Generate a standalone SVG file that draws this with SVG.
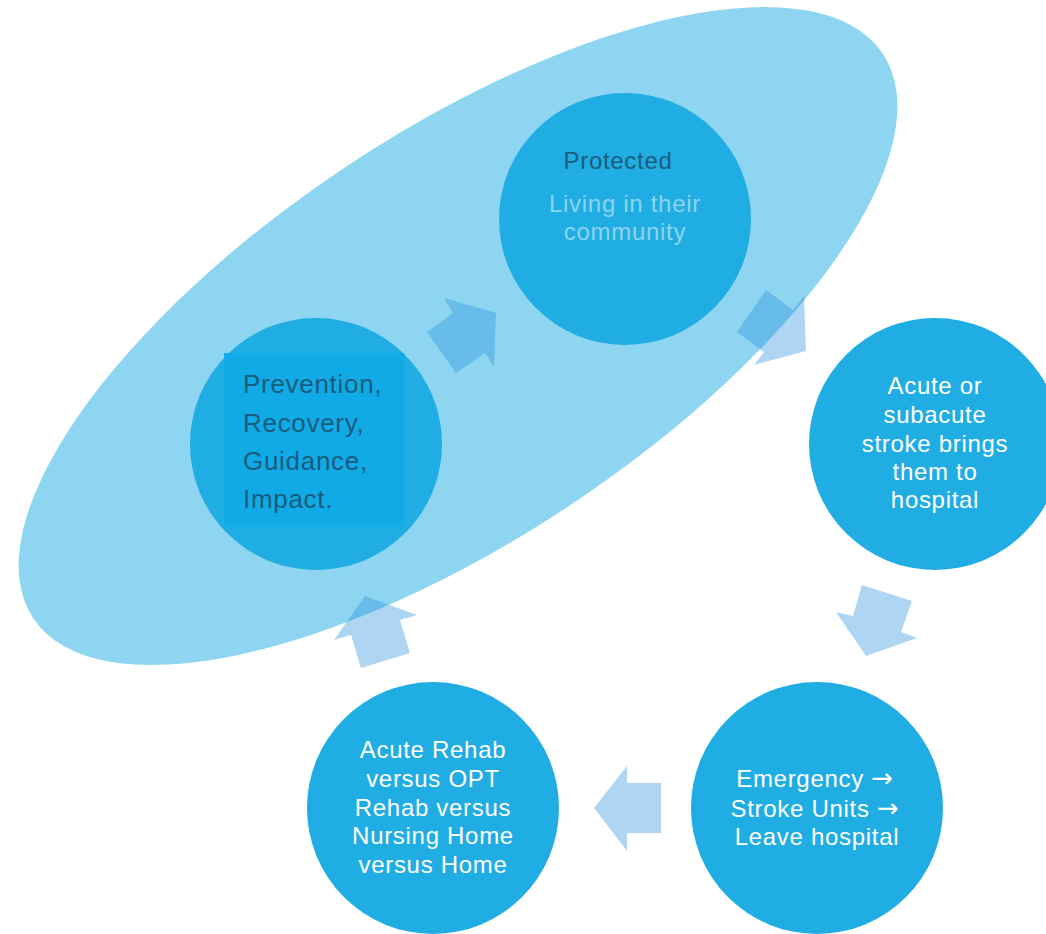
<svg xmlns="http://www.w3.org/2000/svg" width="1046" height="934" viewBox="0 0 1046 934">
<style>
.c{fill:#1FADE3}
.t{font-family:"Liberation Sans",Arial,sans-serif;font-size:24px;letter-spacing:0.7px;fill:#FFFFFF;text-anchor:middle}
.dk{fill:#1A5C7C}
.lt{fill:#8DD5F0}
.lf{font-family:"Liberation Sans",Arial,sans-serif;font-size:26px;letter-spacing:0.7px;fill:#1A5C7C}
.ar{fill:#2A93DC;fill-opacity:0.38}
.arw{font-family:"DejaVu Sans",sans-serif;font-size:26px}
</style>
<rect width="1046" height="934" fill="#FFFFFF"/>
<ellipse id="ellipse" cx="458" cy="336" rx="510" ry="203" transform="rotate(-33.6 458 336)" fill="#8DD5F0"/>
<g id="connectors">
<polygon class="ar" points="444,298 496,313 494,367 485,353 456,373 427,332 453,313"/>
<polygon class="ar" points="766,290 793,310 804,296 806,351 754,365 764,352 737,332"/>
<polygon class="ar" points="862,585 912,601 901,632 917,638 866,656 836,612 853,616"/>
<polygon class="ar" points="661,783 661,833 627,833 627,851 594,808 627,766 627,783"/>
<polygon class="ar" points="410,653 400,620 417,615 365,596 334,640 351,635 361,668"/>
</g>
<g id="node-protected">
<circle class="c" cx="625" cy="219" r="126"/>
<text class="t dk" x="618" y="169">Protected</text>
<text class="t lt" x="625" y="212">Living in their</text>
<text class="t lt" x="625" y="240">community</text>
</g>
<g id="node-prevention">
<circle class="c" cx="316" cy="444" r="126"/>
<rect x="224" y="353" width="180" height="174" fill="#10AAE6"/>
<text class="lf" x="243" y="393">Prevention,</text>
<text class="lf" x="243" y="432">Recovery,</text>
<text class="lf" x="243" y="470">Guidance,</text>
<text class="lf" x="243" y="508">Impact.</text>
</g>
<g id="node-acute">
<circle class="c" cx="935" cy="444" r="126"/>
<text class="t" x="935" y="394">Acute or</text>
<text class="t" x="935" y="423">subacute</text>
<text class="t" x="935" y="452">stroke brings</text>
<text class="t" x="935" y="480">them to</text>
<text class="t" x="935" y="508">hospital</text>
</g>
<g id="node-emergency">
<circle class="c" cx="817" cy="808" r="126"/>
<text class="t" x="815" y="787">Emergency <tspan class="arw">→</tspan></text>
<text class="t" x="815" y="817">Stroke Units <tspan class="arw">→</tspan></text>
<text class="t" x="817" y="845">Leave hospital</text>
</g>
<g id="node-rehab">
<circle class="c" cx="433" cy="808" r="126"/>
<text class="t" x="433" y="758">Acute Rehab</text>
<text class="t" x="433" y="787">versus OPT</text>
<text class="t" x="433" y="816">Rehab versus</text>
<text class="t" x="433" y="844">Nursing Home</text>
<text class="t" x="433" y="873">versus Home</text>
</g>
</svg>
